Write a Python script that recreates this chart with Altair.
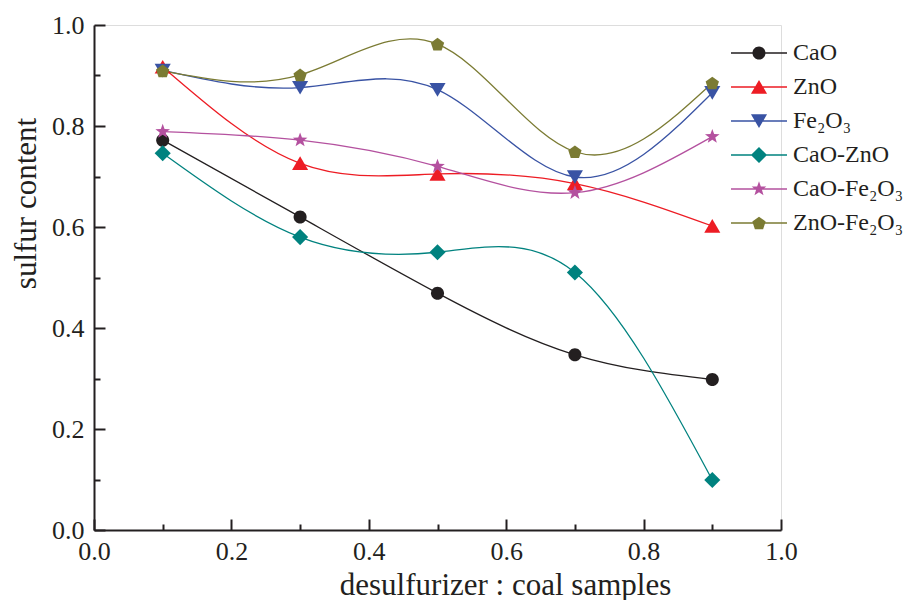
import math
import altair as alt
import pandas as pd

# ---- data ----
ratio = [0.1, 0.3, 0.5, 0.7, 0.9]
series = ["CaO", "ZnO", "Fe₂O₃", "CaO-ZnO", "CaO-Fe₂O₃", "ZnO-Fe₂O₃"]
cao = [0.772, 0.620, 0.469, 0.347, 0.298]
zno = [0.917, 0.726, 0.705, 0.686, 0.602]
fe2o3 = [0.910, 0.876, 0.872, 0.699, 0.866]
cao_zno = [0.746, 0.580, 0.550, 0.510, 0.099]
cao_fe2o3 = [0.789, 0.772, 0.720, 0.668, 0.779]
zno_fe2o3 = [0.909, 0.901, 0.962, 0.749, 0.885]
colors = ["#231f20", "#ed1c24", "#3953a4", "#00827f", "#b4519f", "#7b7b33"]

x_major = [0.0, 0.2, 0.4, 0.6, 0.8, 1.0]
x_all = [round(i * 0.1, 1) for i in range(11)]
y_major = [0.0, 0.2, 0.4, 0.6, 0.8, 1.0]
y_all = [round(i * 0.1, 1) for i in range(11)]

values = [cao, zno, fe2o3, cao_zno, cao_fe2o3, zno_fe2o3]
rows = []
for name, vals in zip(series, values):
    for xv, yv in zip(ratio, vals):
        rows.append({"x": xv, "v": yv, "s": name})
df = pd.DataFrame(rows)

# ---- marker shapes (unit paths) ----
def poly(pts):
    return "M" + "L".join(f"{px:.3f},{py:.3f}" for px, py in pts) + "Z"

def star(R=1.1, r=0.45):
    pts = []
    for k in range(10):
        a = math.radians(-90 + 36 * k)
        rad = R if k % 2 == 0 else r
        pts.append((rad * math.cos(a), rad * math.sin(a)))
    return poly(pts)

def pentagon(R=1.0):
    pts = []
    for k in range(5):
        a = math.radians(-90 + 72 * k)
        pts.append((R * math.cos(a), R * math.sin(a) + 0.09))
    return poly(pts)

circle = "M-0.93,0A0.93,0.93,0,1,1,0.93,0A0.93,0.93,0,1,1,-0.93,0Z"
tri_up = "M0,-1.0L1.15,0.95L-1.15,0.95Z"
tri_down = "M0,1.0L-1.15,-0.95L1.15,-0.95Z"
diamond = "M0,-1.15L1.15,0L0,1.15L-1.15,0Z"
shapes = [circle, tri_up, tri_down, diamond, star(), pentagon()]
bar = "M-4,-0.1H4V0.1H-4Z"
legend_shapes = [bar + s for s in shapes]

FONT = "Liberation Serif, Times New Roman, Times, serif"
INK = "#231f20"
W, H = 687, 505

main_x_axis = alt.Axis(
    values=x_major, format=".1f", ticks=False, tickSize=0, grid=False,
    domainColor=INK, domainWidth=2, labelFont=FONT, labelFontSize=26,
    labelColor=INK, labelPadding=8, labelFlush=False,
    title="desulfurizer : coal samples", titleFont=FONT, titleFontSize=31,
    titleFontWeight="normal", titleColor=INK, titleX=411, titleY=64,
    titleBaseline="alphabetic", titleAlign="center",
)
main_y_axis = alt.Axis(
    values=y_major, format=".1f", ticks=False, tickSize=0, grid=False,
    domainColor=INK, domainWidth=2, labelFont=FONT, labelFontSize=26,
    labelColor=INK, labelPadding=10, labelFlush=False,
    title="sulfur content", titleFont=FONT, titleFontSize=31,
    titleFontWeight="normal", titleColor=INK, titleX=-59, titleY=178,
    titleBaseline="alphabetic", titleAlign="center", titleAngle=-90,
)
tick_size = {"condition": {"test": "round(datum.value * 10) % 2 == 0", "value": 11}, "value": 6}
tick_x_axis = alt.Axis(
    orient="top", offset=-H, values=x_all, labels=False, domain=False,
    grid=False, tickSize=tick_size, tickWidth=2, tickColor=INK, title=None,
)
tick_y_axis = alt.Axis(
    orient="right", offset=-W, values=y_all, labels=False, domain=False,
    grid=False, tickSize=tick_size, tickWidth=2, tickColor=INK, title=None,
)

xscale = alt.Scale(domain=[0, 1], nice=False, zero=False)
yscale = alt.Scale(domain=[0, 1], nice=False, zero=False)
cscale = alt.Scale(domain=series, range=colors)

base = alt.Chart(df)

lines = base.mark_line(interpolate="natural", strokeWidth=1.3).encode(
    x=alt.X("x:Q", scale=xscale, axis=main_x_axis),
    y=alt.Y("v:Q", scale=yscale, axis=main_y_axis),
    color=alt.Color("s:N", scale=cscale, legend=None),
    detail="s:N",
)

points = base.mark_point(filled=True, opacity=1, size=196).encode(
    x=alt.X("x:Q", scale=xscale, axis=tick_x_axis),
    y=alt.Y("v:Q", scale=yscale, axis=tick_y_axis),
    color=alt.Color("s:N", scale=cscale, legend=None),
    shape=alt.Shape("s:N", scale=alt.Scale(domain=series, range=shapes), legend=None),
)

leg = dict(
    orient="none", legendX=653, legendY=16, title=None, labelFont=FONT,
    labelFontSize=24, labelColor=INK, symbolSize=196, labelOffset=22,
    rowPadding=10, symbolOpacity=1, padding=0, symbolStrokeWidth=0,
    labelLimit=300,
)
legend_layer = base.mark_point(filled=True, opacity=0, size=196).encode(
    x=alt.X("x:Q", scale=xscale, axis=None),
    y=alt.Y("v:Q", scale=yscale, axis=None),
    color=alt.Color("s:N", scale=cscale, legend=alt.Legend(**leg)),
    shape=alt.Shape("s:N", scale=alt.Scale(domain=series, range=legend_shapes),
                    legend=alt.Legend(**leg)),
)

chart = (
    alt.layer(lines, points, legend_layer)
    .resolve_scale(color="independent", shape="independent")
    .resolve_axis(x="independent", y="independent")
    .properties(
        width=W, height=H,
        autosize=alt.AutoSizeParams(type="none"),
        padding={"left": 86, "top": 17, "right": 129, "bottom": 70},
    )
    .configure_view(stroke=None)
    .configure(background="white")
)

chart.save("out.html", embed_options={"renderer": "svg", "actions": False})
